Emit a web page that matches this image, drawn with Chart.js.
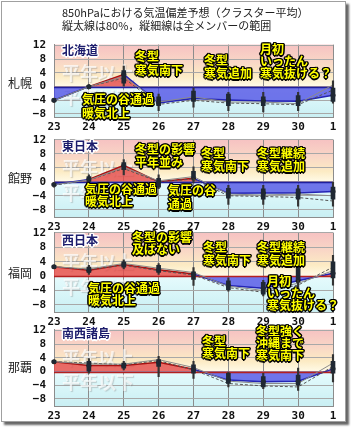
<!DOCTYPE html>
<html>
<head>
<meta charset="utf-8">
<script src="https://cdn.jsdelivr.net/npm/chart.js@4.4.0/dist/chart.umd.min.js"></script>
<style>
body{margin:0;background:#fff;width:351px;height:429px;overflow:hidden;position:relative;font-family:'Noto Sans CJK JP',sans-serif;}
#frame{position:absolute;left:1px;top:1px;width:343px;height:419px;border:1px solid #a0a0a0;box-shadow:3px 3px 2px #666;background:#fff;}
canvas{position:absolute;left:0;}
.t{position:absolute;white-space:nowrap;}
.title{left:62px;top:6px;font-size:11px;line-height:13px;color:#222;}
.stn{left:8px;font-size:12px;line-height:14px;color:#222;}
.reg{left:62px;font-size:12px;line-height:14px;font-weight:bold;color:#1c1c6c;
  text-shadow:-1px -1px 0 #fff,1px -1px 0 #fff,-1px 1px 0 #fff,1px 1px 0 #fff,0 -1.5px 0 #fff,0 1.5px 0 #fff,-1.5px 0 0 #fff,1.5px 0 0 #fff;}
.ann{font-size:12px;line-height:13px;font-weight:bold;color:#ffff00;
  text-shadow:-1px -1px 0 #000,1px -1px 0 #000,-1px 1px 0 #000,1px 1px 0 #000,0 -1.5px 0 #000,0 1.5px 0 #000,-1.5px 0 0 #000,1.5px 0 0 #000;}
</style>
</head>
<body>
<div id="frame"></div>
<canvas id="c1" width="351" height="102" style="top:30px"></canvas>
<canvas id="c2" width="351" height="107" style="top:125px"></canvas>
<canvas id="c3" width="351" height="109" style="top:218px"></canvas>
<canvas id="c4" width="351" height="106" style="top:315px"></canvas>

<div class="t title">850hPaにおける気温偏差予想（クラスター平均）<br>縦太線は80%，縦細線は全メンバーの範囲</div>

<div class="t stn" style="top:76px">札幌</div>
<div class="t stn" style="top:171px">館野</div>
<div class="t stn" style="top:266px">福岡</div>
<div class="t stn" style="top:360px">那覇</div>

<div class="t reg" style="top:43px">北海道</div>
<div class="t reg" style="top:139px">東日本</div>
<div class="t reg" style="top:233px">西日本</div>
<div class="t reg" style="top:326px">南西諸島</div>

<div class="t ann" style="left:135px;top:49px;line-height:14px">冬型<br>寒気南下</div>
<div class="t ann" style="left:204px;top:53px">冬型<br>寒気追加</div>
<div class="t ann" style="left:260px;top:43px;line-height:12px">月初<br>いったん<br>寒気抜ける？</div>
<div class="t ann" style="left:82px;top:92px;line-height:14px">気圧の谷通過<br>暖気北上</div>

<div class="t ann" style="left:135px;top:142px">冬型の影響<br>平年並み</div>
<div class="t ann" style="left:201px;top:146px">冬型<br>寒気南下</div>
<div class="t ann" style="left:257px;top:146px">冬型継続<br>寒気追加</div>
<div class="t ann" style="left:85px;top:183px;line-height:12px">気圧の谷通過<br>暖気北上</div>
<div class="t ann" style="left:168px;top:183px;line-height:14px">気圧の谷<br>通過</div>

<div class="t ann" style="left:132px;top:231px;line-height:12px">冬型の影響<br>及ばない</div>
<div class="t ann" style="left:203px;top:240px">冬型<br>寒気南下</div>
<div class="t ann" style="left:257px;top:240px">冬型継続<br>寒気追加</div>
<div class="t ann" style="left:88px;top:282px;line-height:12px">気圧の谷通過<br>暖気北上</div>
<div class="t ann" style="left:267px;top:275px;line-height:12px">月初<br>いったん<br>寒気抜ける？</div>

<div class="t ann" style="left:202px;top:335px;line-height:12px">冬型<br>寒気南下</div>
<div class="t ann" style="left:256px;top:325px;line-height:12px">冬型強く<br>沖縄まで<br>寒気南下</div>

<script>
const days = ['23', '24', '25', '26', '27', '28', '29', '30', '1'];
const yTicks = [-8, -6, -4, -2, 0, 2, 4, 6, 8, 10, 12];

// 札幌
const sapporoMean = [-4, 0, 3.6, -4.8, -3.5, -3.9, -4.2, -4.3, -2.5];
const sapporoLineA = [-4, 0, 3, -4.5, -3, -4.5, -4.5, -5, 0.5];
const sapporoLineB = [-4, 0, 2.5, -5.2, -4, -4.8, -5, -5.3, -1];
const sapporoBox = [[-4.4, -3.6], [-0.4, 0.4], [1, 4.7], [-5.6, -3], [-4.3, -1.3], [-5.6, -2.2], [-5.6, -3], [-5.6, -2.6], [-4.3, -0.4]];
const sapporoRange = [[-4.6, -3.4], [-0.6, 0.6], [0, 6], [-7, -2.2], [-6, -0.4], [-7, -1.7], [-7.4, -1.7], [-7, -1.7], [-4.8, 1.7]];

// 館野
const tatenoMean = [-0.8, 0.7, 4.7, 0, 1.0, -3.3, -3.2, -3.2, -2.8];
const tatenoLineA = [-0.8, 0.5, 4.2, 0.3, 1.5, -3.5, -3.8, -3.5, -4];
const tatenoLineB = [-1, 0.5, 3.8, 0, 0.8, -4, -4.2, -4.5, -5.5];
const tatenoBox = [[-1.2, -0.4], [0, 1.5], [3.5, 5.5], [-1.5, 1], [1.2, 3], [-4.7, -1.9], [-5, -2], [-5, -2], [-5, -1.5]];
const tatenoRange = [[-1.5, 0], [-0.5, 2], [2, 6.4], [-2, 2], [-0.3, 4.3], [-6.5, -1], [-6.5, -1], [-7, -1], [-7, 0]];

// 福岡
const fukuokaMean = [2.6, 1.6, 3.2, 1.75, 0.6, -2.6, -3.4, -1.3, 0.8];
const fukuokaLineA = [2.6, 2, 3.5, 2.2, 1, -2.8, -4, -2, 1.5];
const fukuokaLineB = [2.6, 1.8, 3, 1.5, 0.3, -3.2, -4.5, -2.5, 2.5];
const fukuokaBox = [[2.3, 2.9], [1, 2.5], [2.5, 4], [1, 3], [-0.9, 1.2], [-3.8, -1.3], [-5, -1.75], [-1, 3], [-0.5, 4]];
const fukuokaRange = [[2.2, 3], [0.5, 3], [2, 4.5], [0.5, 3.5], [-2.6, 2.4], [-4.2, -0.5], [-5.5, -1.2], [-5, 5.5], [-2.5, 5.75]];

// 那覇
const nahaMean = [2.9, 1.8, 1.75, 2.7, 0.7, -2.5, -3.0, -2.8, 0.8];
const nahaLineA = [2.9, 2.2, 2.2, 3.5, 1.2, -2.8, -3.5, -3.5, 2.5];
const nahaLineB = [2.9, 2.5, 2, 3.2, 0.5, -3.5, -4.2, -4.5, 1.5];
const nahaBox = [[2.6, 3.2], [0, 3], [1, 2.5], [1.5, 3.5], [-0.5, 2], [-3.5, -0.5], [-4.5, -1.5], [-4, -1], [-0.5, 3]];
const nahaRange = [[2.5, 3.3], [-0.5, 3.8], [0.5, 3], [-1.5, 4.5], [-2, 3], [-4.5, 0], [-5, -0.5], [-5.5, 1], [-3, 5]];

const tickFont = {family: 'DejaVu Sans Mono', weight: 'bold', size: 11};

// background bands, watermark text and the zero line
const bandsPlugin = {
    id: 'bands',
    beforeDraw(chart) {
        const ctx = chart.ctx;
        const a = chart.chartArea;
        const y0 = chart.scales.y.getPixelForValue(0);
        ctx.save();
        let g = ctx.createLinearGradient(0, a.top, 0, y0);
        g.addColorStop(0, '#f6c2c2');
        g.addColorStop(0.4, '#f9d6c6');
        g.addColorStop(0.75, '#fcebc4');
        g.addColorStop(1, '#fffbe8');
        ctx.fillStyle = g;
        ctx.fillRect(a.left, a.top, a.width, y0 - a.top);
        g = ctx.createLinearGradient(0, y0, 0, a.bottom);
        g.addColorStop(0, '#e6fbfd');
        g.addColorStop(1, '#c9eff3');
        ctx.fillStyle = g;
        ctx.fillRect(a.left, y0, a.width, a.bottom - y0);
        ctx.restore();
    },
    beforeDatasetsDraw(chart) {
        const ctx = chart.ctx;
        const y = chart.scales.y;
        ctx.save();
        ctx.font = 'bold 18px "Noto Sans CJK JP"';
        ctx.textBaseline = 'middle';
        ctx.shadowColor = 'rgba(120,120,120,0.45)';
        ctx.shadowOffsetX = 1;
        ctx.shadowOffsetY = 1;
        ctx.shadowBlur = 1;
        ctx.fillStyle = 'rgba(255,255,255,0.7)';
        ctx.fillText('平年以上', 62, y.getPixelForValue(4));
        ctx.fillText('平年以下', 62, y.getPixelForValue(-3.2));
        ctx.restore();
    },
    afterDatasetDraw(chart, args, opts) {
        if (args.index !== 4) return;
        const ctx = chart.ctx;
        const a = chart.chartArea;
        const y0 = Math.round(chart.scales.y.getPixelForValue(0)) + 0.5;
        ctx.save();
        ctx.strokeStyle = opts.zero;
        ctx.lineWidth = 1.6;
        ctx.beginPath();
        ctx.moveTo(a.left, y0);
        ctx.lineTo(a.right, y0);
        ctx.stroke();
        ctx.restore();
    }
};

function CreatePanel(id, mean, lineA, lineB, box, range, yMin, yMax, zeroColor) {
    const ctx = document.getElementById(id);
    return new Chart(ctx, {
        type: 'bar',
        data: {
            labels: days,
            datasets: [
                {
                    // 80% range
                    data: box,
                    backgroundColor: '#1f2833',
                    barThickness: 4,
                    grouped: false,
                    clip: 4
                },
                {
                    // all members
                    data: range,
                    backgroundColor: '#333',
                    barThickness: 1.5,
                    grouped: false,
                    clip: 4
                },
                {
                    type: 'line',
                    data: lineA,
                    borderColor: '#8a8a8a',
                    borderWidth: 1,
                    pointRadius: 0,
                    fill: false
                },
                {
                    type: 'line',
                    data: lineB,
                    borderColor: '#555',
                    borderWidth: 1,
                    borderDash: [3, 2],
                    pointRadius: 0,
                    fill: false
                },
                {
                    type: 'line',
                    data: mean,
                    borderWidth: 1.5,
                    segment: {
                        borderColor: c => (c.p0.parsed.y + c.p1.parsed.y) >= 0 ? '#a81212' : '#2424b4'
                    },
                    pointRadius: 2.5,
                    pointBackgroundColor: '#1a1a1a',
                    pointBorderWidth: 0,
                    fill: {
                        target: {value: 0},
                        above: 'rgba(228,72,72,0.8)',
                        below: 'rgba(72,72,228,0.75)'
                    },
                    clip: 4
                }
            ]
        },
        options: {
            responsive: false,
            animation: false,
            layout: {padding: {top: 6, right: 18, left: 0, bottom: 0}},
            plugins: {
                legend: {display: false},
                tooltip: {enabled: false},
                bands: {zero: zeroColor}
            },
            scales: {
                x: {
                    offset: false,
                    grid: {color: '#8c8c8c', drawTicks: false, offset: false},
                    border: {color: '#8c8c8c'},
                    ticks: {font: tickFont, color: '#111', padding: 3, maxRotation: 0, autoSkip: false},
                    afterFit: s => { s.height = 14; }
                },
                y: {
                    min: yMin,
                    max: yMax,
                    afterBuildTicks: s => { s.ticks = yTicks.map(v => ({value: v})); },
                    grid: {color: '#a8a8a8', drawTicks: false},
                    border: {color: '#8c8c8c'},
                    ticks: {
                        font: tickFont,
                        color: '#111',
                        padding: 8,
                        callback: v => v % 4 === 0 ? String(v).replace('-', '\u2212') : ''
                    },
                    afterFit: s => { s.width = 54; }
                }
            }
        },
        plugins: [bandsPlugin]
    });
}

CreatePanel('c1', sapporoMean, sapporoLineA, sapporoLineB, sapporoBox, sapporoRange, -9.0, 12.3, '#1e1e9c');
CreatePanel('c2', tatenoMean, tatenoLineA, tatenoLineB, tatenoBox, tatenoRange, -10.2, 12.1, '#1e1e9c');
CreatePanel('c3', fukuokaMean, fukuokaLineA, fukuokaLineB, fukuokaBox, fukuokaRange, -10.1, 12.1, '#b42020');
CreatePanel('c4', nahaMean, nahaLineA, nahaLineB, nahaBox, nahaRange, -10.2, 12.3, '#b42020');
</script>
</body>
</html>
